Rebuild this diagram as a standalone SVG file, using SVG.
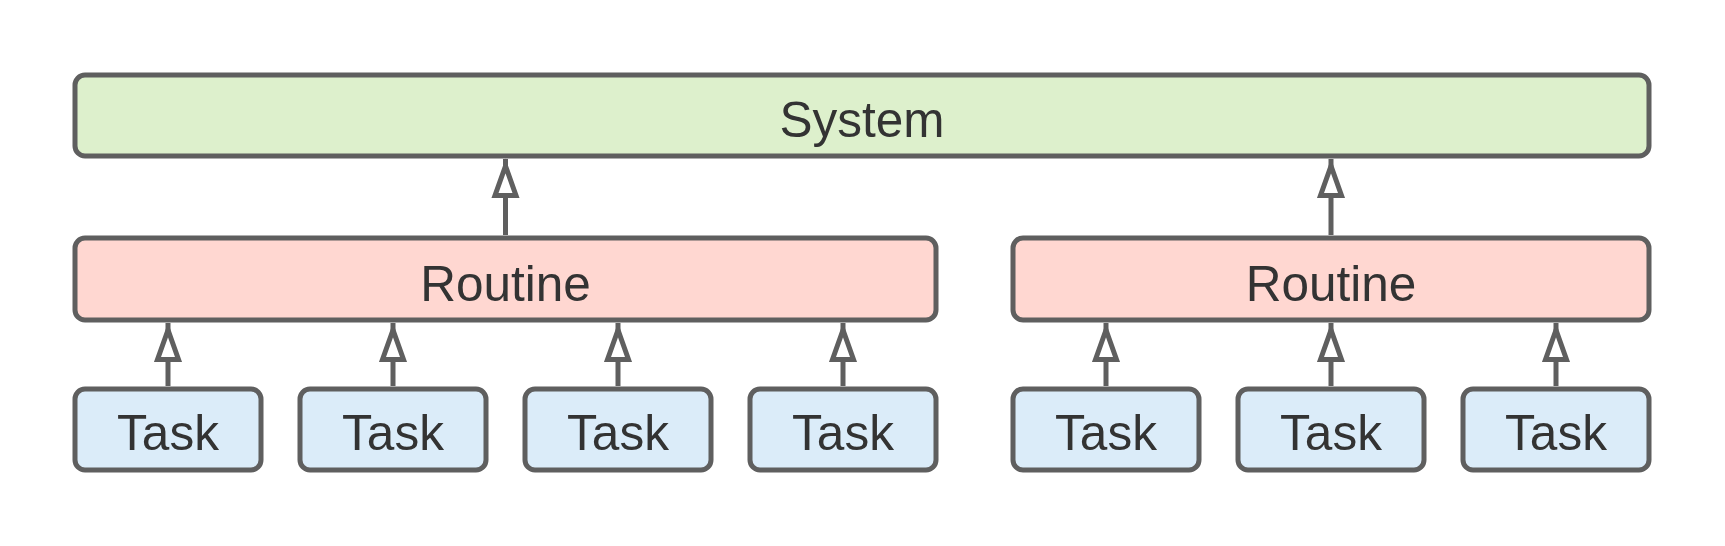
<svg xmlns="http://www.w3.org/2000/svg" width="1725" height="546" viewBox="0 0 1725 546">
<defs>
<style>
.n{stroke:#5f5f5f;stroke-width:5}
.sys{fill:#ddf0cc}
.rt{fill:#ffd7d1}
.tk{fill:#dbecf9}
.t{font-family:"Liberation Sans",Arial,sans-serif;font-size:49.5px;fill:#333;text-anchor:middle}
.c{stroke:#5f5f5f;stroke-width:5;fill:none;marker-end:url(#ah)}
</style>
<marker id="ah" markerUnits="userSpaceOnUse" viewBox="-45 -16 50 32" refX="0" refY="0" markerWidth="50" markerHeight="32" orient="auto">
<path d="M-7,0 L-36.5,-10.5 L-36.5,10.5 Z" fill="#fff" stroke="#5f5f5f" stroke-width="5" stroke-linejoin="miter"/>
</marker>
</defs>
<rect width="1725" height="546" fill="#fff"/>
<g id="connectors">
<line class="c" x1="505.5" y1="235" x2="505.5" y2="159"/>
<line class="c" x1="1331" y1="235" x2="1331" y2="159"/>
<line class="c" x1="168" y1="386" x2="168" y2="323"/>
<line class="c" x1="393" y1="386" x2="393" y2="323"/>
<line class="c" x1="618" y1="386" x2="618" y2="323"/>
<line class="c" x1="843" y1="386" x2="843" y2="323"/>
<line class="c" x1="1106" y1="386" x2="1106" y2="323"/>
<line class="c" x1="1331" y1="386" x2="1331" y2="323"/>
<line class="c" x1="1556" y1="386" x2="1556" y2="323"/>
</g>
<g id="system"><rect class="n sys" x="75" y="75" width="1574" height="81" rx="10"/><text class="t" x="862" y="137">System</text></g>
<g id="routine1"><rect class="n rt" x="75" y="238" width="861" height="82" rx="10"/><text class="t" x="505.5" y="301">Routine</text></g>
<g id="routine2"><rect class="n rt" x="1013" y="238" width="636" height="82" rx="10"/><text class="t" x="1331" y="301">Routine</text></g>
<g id="task1"><rect class="n tk" x="75" y="389" width="186" height="81" rx="10"/><text class="t" x="168" y="450">Task</text></g>
<g id="task2"><rect class="n tk" x="300" y="389" width="186" height="81" rx="10"/><text class="t" x="393" y="450">Task</text></g>
<g id="task3"><rect class="n tk" x="525" y="389" width="186" height="81" rx="10"/><text class="t" x="618" y="450">Task</text></g>
<g id="task4"><rect class="n tk" x="750" y="389" width="186" height="81" rx="10"/><text class="t" x="843" y="450">Task</text></g>
<g id="task5"><rect class="n tk" x="1013" y="389" width="186" height="81" rx="10"/><text class="t" x="1106" y="450">Task</text></g>
<g id="task6"><rect class="n tk" x="1238" y="389" width="186" height="81" rx="10"/><text class="t" x="1331" y="450">Task</text></g>
<g id="task7"><rect class="n tk" x="1463" y="389" width="186" height="81" rx="10"/><text class="t" x="1556" y="450">Task</text></g>
</svg>
